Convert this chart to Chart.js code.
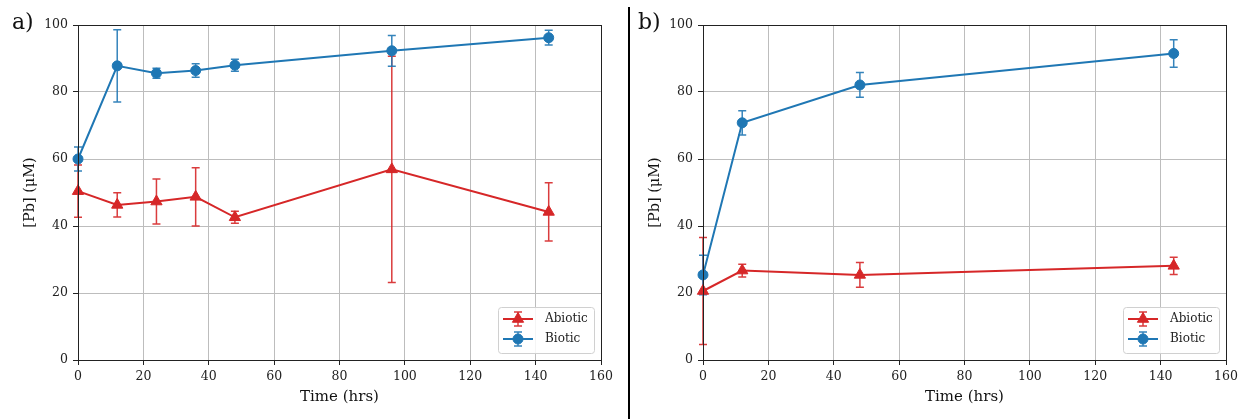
<!DOCTYPE html>
<html>
<head>
<meta charset="utf-8">
<script src="https://cdn.jsdelivr.net/npm/chart.js@4.4.1/dist/chart.umd.min.js"></script>
<style>
html, body { margin: 0; padding: 0; background: #fff; }
body { width: 1243px; height: 419px; position: relative; overflow: hidden; font-family: "DejaVu Serif", serif; }
.panel { position: absolute; top: 0; }
#panelA { left: 0; }
#panelB { left: 625px; }
.tag { position: absolute; top: 11px; font-size: 22px; line-height: 22px; color: #111; }
#divider { position: absolute; left: 628px; top: 7px; width: 2px; height: 412px; background: #000; z-index: 5; }
</style>
</head>
<body>
<div class="panel" id="panelA"><canvas id="chartA" width="628" height="419"></canvas></div>
<div class="panel" id="panelB"><canvas id="chartB" width="618" height="419"></canvas></div>
<div class="tag" style="left:12px">a)</div>
<div class="tag" style="left:638px">b)</div>
<div id="divider"></div>
<script>
// panel a) - Pb over time
let timesA = [0, 12, 24, 36, 48, 96, 144];
let abioticA = [50.4, 46.3, 47.3, 48.7, 42.6, 56.9, 44.2];
let abioticErrA = [7.8, 3.6, 6.7, 8.7, 1.8, 33.8, 8.7];
let bioticA = [60.0, 87.8, 85.6, 86.4, 88.0, 92.3, 96.2];
let bioticErrA = [3.6, 10.8, 1.5, 2.0, 1.8, 4.6, 2.2];

// panel b)
let timesB = [0, 12, 48, 144];
let abioticB = [20.6, 26.7, 25.4, 28.1];
let abioticErrB = [16.0, 1.9, 3.7, 2.6];
let bioticB = [25.4, 70.8, 82.1, 91.5];
let bioticErrB = [5.9, 3.6, 3.7, 4.1];

let seriesNames = ['Abiotic', 'Biotic'];
let xAxisTitle = 'Time (hrs)';
let yAxisTitle = '[Pb] (\u03BCM)';

let red = '#d62728';
let blue = '#1f77b4';
let gridColor = '#bdbdbd';
let inkColor = '#222';

Chart.defaults.font.family = "'DejaVu Serif', serif";
Chart.defaults.color = inkColor;

function toPoints(xs, ys) {
    let pts = [];
    for (let i = 0; i < xs.length; i++) {
        pts.push({ x: xs[i], y: ys[i] });
    }
    return pts;
}

function drawErrBar(ctx, x, yTop, yBot, color) {
    ctx.save();
    ctx.strokeStyle = color;
    ctx.globalAlpha = 0.9;
    ctx.lineWidth = 1.5;
    ctx.beginPath();
    ctx.moveTo(x, yTop); ctx.lineTo(x, yBot);
    ctx.moveTo(x - 4, yTop); ctx.lineTo(x + 4, yTop);
    ctx.moveTo(x - 4, yBot); ctx.lineTo(x + 4, yBot);
    ctx.stroke();
    ctx.restore();
}

let errorBarPlugin = {
    id: 'errorBars',
    beforeDatasetsDraw(chart) {
        let ctx = chart.ctx;
        let yScale = chart.scales.y;
        chart.data.datasets.forEach((ds, di) => {
            let meta = chart.getDatasetMeta(di);
            for (let i = 0; i < ds.data.length; i++) {
                let v = ds.data[i].y;
                let e = ds.errors[i];
                drawErrBar(ctx, meta.data[i].x, yScale.getPixelForValue(v + e), yScale.getPixelForValue(v - e), ds.borderColor);
            }
        });
    }
};

let frameLegendPlugin = {
    id: 'frameLegend',
    afterDraw(chart) {
        let ctx = chart.ctx;
        let a = chart.chartArea;
        ctx.save();
        ctx.strokeStyle = inkColor;
        ctx.lineWidth = 1;
        ctx.strokeRect(Math.round(a.left) + 0.5, Math.round(a.top) + 0.5, Math.round(a.right - a.left), Math.round(a.bottom - a.top));

        // legend box, lower right
        let w = 96, h = 46;
        let bx = a.right - 7 - w, by = a.bottom - 7 - h;
        ctx.fillStyle = 'rgba(255,255,255,0.85)';
        ctx.strokeStyle = '#d0d0d0';
        ctx.beginPath();
        ctx.roundRect(bx + 0.5, by + 0.5, w, h, 3);
        ctx.fill();
        ctx.stroke();

        ctx.font = "12px 'DejaVu Serif', serif";
        ctx.textBaseline = 'middle';
        chart.data.datasets.forEach((ds, di) => {
            let cy = by + 12 + di * 20;
            let hx = bx + 5;
            ctx.strokeStyle = ds.borderColor;
            ctx.lineWidth = 2;
            ctx.beginPath();
            ctx.moveTo(hx, cy); ctx.lineTo(hx + 30, cy);
            ctx.stroke();
            drawErrBar(ctx, hx + 15, cy - 7, cy + 7, ds.borderColor);
            ctx.fillStyle = ds.backgroundColor;
            ctx.strokeStyle = ds.borderColor;
            ctx.lineWidth = 1;
            Chart.helpers.drawPoint(ctx, { pointStyle: ds.pointStyle, radius: ds.pointRadius, borderWidth: 1 }, hx + 15, cy);
            ctx.fillStyle = inkColor;
            ctx.fillText(ds.label, hx + 42, cy);
        });
        ctx.restore();
    }
};

function makeChart(canvasId, times, abiotic, abioticErr, biotic, bioticErr, rightPad) {
    let ctx = document.getElementById(canvasId).getContext('2d');
    return new Chart(ctx, {
        type: 'scatter',
        data: {
            datasets: [
                {
                    label: seriesNames[0],
                    data: toPoints(times, abiotic),
                    errors: abioticErr,
                    showLine: true,
                    borderColor: red,
                    backgroundColor: red,
                    borderWidth: 2,
                    pointStyle: 'triangle',
                    pointRadius: 6.5,
                    pointBorderWidth: 1,
                    clip: false
                },
                {
                    label: seriesNames[1],
                    data: toPoints(times, biotic),
                    errors: bioticErr,
                    showLine: true,
                    borderColor: blue,
                    backgroundColor: blue,
                    borderWidth: 2,
                    pointStyle: 'circle',
                    pointRadius: 5,
                    pointBorderWidth: 1,
                    clip: false
                }
            ]
        },
        options: {
            responsive: false,
            animation: false,
            layout: { padding: { left: 0, top: 25, right: rightPad, bottom: 0 } },
            plugins: { legend: { display: false }, tooltip: { enabled: false } },
            scales: {
                x: {
                    type: 'linear',
                    min: 0,
                    max: 160,
                    ticks: { stepSize: 20, padding: 4, font: { size: 12.5 }, color: inkColor },
                    grid: { color: gridColor, tickColor: inkColor, tickLength: 5, lineWidth: 1 },
                    border: { color: inkColor, width: 1 },
                    title: { display: true, text: xAxisTitle, font: { size: 15 }, color: '#111', padding: { top: 0, bottom: 13 } },
                    afterFit(scale) { scale.height = 59; }
                },
                y: {
                    type: 'linear',
                    min: 0,
                    max: 100,
                    ticks: { stepSize: 20, padding: 5, font: { size: 12.5 }, color: inkColor },
                    grid: { color: gridColor, tickColor: inkColor, tickLength: 5, lineWidth: 1 },
                    border: { color: inkColor, width: 1 },
                    title: { display: true, text: yAxisTitle, font: { size: 14.5 }, color: '#111', padding: { top: 22, bottom: 0 } },
                    afterFit(scale) { scale.width = 78; }
                }
            }
        },
        plugins: [errorBarPlugin, frameLegendPlugin]
    });
}

makeChart('chartA', timesA, abioticA, abioticErrA, bioticA, bioticErrA, 27);
makeChart('chartB', timesB, abioticB, abioticErrB, bioticB, bioticErrB, 17);
</script>
</body>
</html>
